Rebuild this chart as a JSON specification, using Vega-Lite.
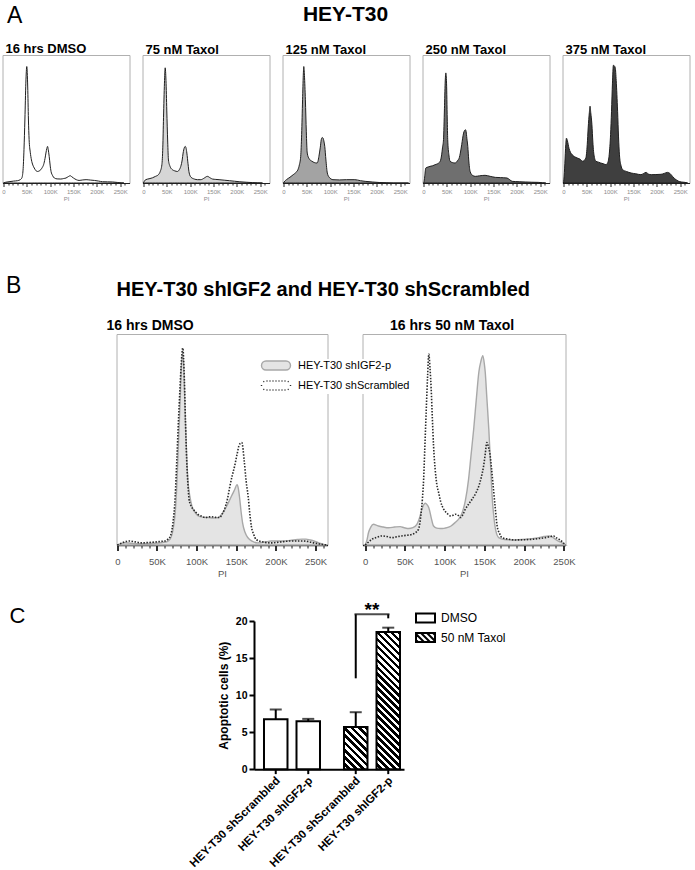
{
"$schema":"https://vega.github.io/schema/vega-lite/v6.json",
"background":"white",
"padding":{"left":0.5,"top":3,"right":0,"bottom":0},
"config":{"font":"Liberation Sans","view":{"stroke":"#b0b0b0"},"title":{"color":"black","fontWeight":"bold","font":"Liberation Sans"},"axis":{"grid":false,"zindex":1,"labelOverlap":false}},
"datasets":{
"histA":[
{"p":"DMSO","x":0,"y":0},{"p":"DMSO","x":5,"y":0.6},{"p":"DMSO","x":12,"y":1},{"p":"DMSO","x":22,"y":1.5},{"p":"DMSO","x":30,"y":1.8},{"p":"DMSO","x":36,"y":2.6},{"p":"DMSO","x":39.5,"y":4},{"p":"DMSO","x":42,"y":10},{"p":"DMSO","x":44,"y":26},{"p":"DMSO","x":46,"y":50},{"p":"DMSO","x":48,"y":78},{"p":"DMSO","x":50,"y":91},{"p":"DMSO","x":52,"y":75},{"p":"DMSO","x":53.5,"y":50},{"p":"DMSO","x":55,"y":34},{"p":"DMSO","x":57.5,"y":24},{"p":"DMSO","x":60,"y":18},{"p":"DMSO","x":63,"y":14},{"p":"DMSO","x":66,"y":11.7},{"p":"DMSO","x":70,"y":9.5},{"p":"DMSO","x":73,"y":9},{"p":"DMSO","x":76,"y":9.3},{"p":"DMSO","x":80,"y":10.4},{"p":"DMSO","x":83,"y":12},{"p":"DMSO","x":86,"y":14.3},{"p":"DMSO","x":89,"y":19},{"p":"DMSO","x":91,"y":23.4},{"p":"DMSO","x":93,"y":27},{"p":"DMSO","x":94.5,"y":28.6},{"p":"DMSO","x":96,"y":26},{"p":"DMSO","x":98,"y":20.8},{"p":"DMSO","x":100,"y":14},{"p":"DMSO","x":102,"y":9},{"p":"DMSO","x":105,"y":6},{"p":"DMSO","x":109,"y":3.9},{"p":"DMSO","x":115,"y":3.2},{"p":"DMSO","x":123,"y":3.1},{"p":"DMSO","x":129,"y":3.5},{"p":"DMSO","x":134,"y":3.9},{"p":"DMSO","x":139,"y":5},{"p":"DMSO","x":143,"y":5.7},{"p":"DMSO","x":146,"y":5},{"p":"DMSO","x":150,"y":3.9},{"p":"DMSO","x":156,"y":2.6},{"p":"DMSO","x":162,"y":2},{"p":"DMSO","x":170,"y":2.4},{"p":"DMSO","x":177,"y":2.6},{"p":"DMSO","x":186,"y":2.3},{"p":"DMSO","x":195,"y":2},{"p":"DMSO","x":204,"y":1.5},{"p":"DMSO","x":212,"y":1},{"p":"DMSO","x":223,"y":0.9},{"p":"DMSO","x":234,"y":0.8},{"p":"DMSO","x":245,"y":0.4},{"p":"DMSO","x":252,"y":0.1},{"p":"DMSO","x":258,"y":0},
{"p":"75","x":0,"y":0},{"p":"75","x":2,"y":1.5},{"p":"75","x":5,"y":2.6},{"p":"75","x":12,"y":3.3},{"p":"75","x":19,"y":4},{"p":"75","x":26,"y":5.2},{"p":"75","x":32,"y":6.5},{"p":"75","x":36,"y":9},{"p":"75","x":39.5,"y":14.3},{"p":"75","x":41.5,"y":28},{"p":"75","x":43,"y":51},{"p":"75","x":45,"y":78},{"p":"75","x":46.6,"y":90},{"p":"75","x":48.3,"y":80},{"p":"75","x":50,"y":57},{"p":"75","x":52,"y":32},{"p":"75","x":53.6,"y":18},{"p":"75","x":57,"y":13},{"p":"75","x":62,"y":10.4},{"p":"75","x":67,"y":9.5},{"p":"75","x":73,"y":9},{"p":"75","x":77,"y":10.5},{"p":"75","x":80,"y":13},{"p":"75","x":83,"y":18},{"p":"75","x":85,"y":23.4},{"p":"75","x":87.5,"y":27.5},{"p":"75","x":89.5,"y":28.6},{"p":"75","x":91.5,"y":27},{"p":"75","x":93,"y":23.4},{"p":"75","x":95.5,"y":15},{"p":"75","x":98,"y":7.8},{"p":"75","x":102,"y":4.5},{"p":"75","x":109,"y":3.1},{"p":"75","x":116,"y":2.6},{"p":"75","x":123,"y":2.6},{"p":"75","x":130,"y":3.8},{"p":"75","x":137,"y":5.2},{"p":"75","x":143,"y":4},{"p":"75","x":148,"y":3.1},{"p":"75","x":155,"y":2.8},{"p":"75","x":162,"y":2.6},{"p":"75","x":173,"y":2.2},{"p":"75","x":184,"y":1.8},{"p":"75","x":195,"y":1.4},{"p":"75","x":205,"y":1},{"p":"75","x":220,"y":0.6},{"p":"75","x":234,"y":0.3},{"p":"75","x":245,"y":0.1},{"p":"75","x":255,"y":0},
{"p":"125","x":0,"y":0},{"p":"125","x":3,"y":1.5},{"p":"125","x":6.4,"y":2.6},{"p":"125","x":14,"y":4.5},{"p":"125","x":21,"y":6.5},{"p":"125","x":26,"y":8},{"p":"125","x":31,"y":10.4},{"p":"125","x":34,"y":14},{"p":"125","x":37,"y":20.8},{"p":"125","x":39,"y":38},{"p":"125","x":41,"y":65},{"p":"125","x":42.5,"y":84},{"p":"125","x":43.6,"y":91},{"p":"125","x":45,"y":84},{"p":"125","x":47,"y":65},{"p":"125","x":49,"y":40},{"p":"125","x":51,"y":23.4},{"p":"125","x":55,"y":19},{"p":"125","x":61,"y":17},{"p":"125","x":66,"y":16},{"p":"125","x":72,"y":15.6},{"p":"125","x":74,"y":17},{"p":"125","x":76,"y":20.8},{"p":"125","x":79,"y":28},{"p":"125","x":81,"y":33.8},{"p":"125","x":83,"y":35.5},{"p":"125","x":85,"y":35},{"p":"125","x":87,"y":32},{"p":"125","x":88.5,"y":28.6},{"p":"125","x":91,"y":18},{"p":"125","x":94,"y":7.8},{"p":"125","x":98,"y":4.5},{"p":"125","x":106,"y":2.6},{"p":"125","x":120,"y":2.4},{"p":"125","x":135,"y":2.6},{"p":"125","x":153,"y":2.6},{"p":"125","x":165,"y":1.8},{"p":"125","x":175,"y":1.3},{"p":"125","x":190,"y":0.8},{"p":"125","x":205,"y":0.4},{"p":"125","x":220,"y":0.2},{"p":"125","x":235,"y":0},{"p":"125","x":268,"y":0},
{"p":"250","x":0,"y":0},{"p":"250","x":1.5,"y":1.3},{"p":"250","x":3,"y":6},{"p":"250","x":5,"y":11.7},{"p":"250","x":10,"y":12.5},{"p":"250","x":14,"y":13},{"p":"250","x":20,"y":13.5},{"p":"250","x":25,"y":14.3},{"p":"250","x":30,"y":15},{"p":"250","x":36,"y":17},{"p":"250","x":39,"y":22},{"p":"250","x":41,"y":28},{"p":"250","x":43,"y":34},{"p":"250","x":45,"y":58},{"p":"250","x":46.5,"y":78},{"p":"250","x":48,"y":86},{"p":"250","x":49.5,"y":78},{"p":"250","x":51,"y":50},{"p":"250","x":52,"y":34},{"p":"250","x":54.5,"y":22},{"p":"250","x":57,"y":17},{"p":"250","x":62,"y":16},{"p":"250","x":68,"y":15.6},{"p":"250","x":73,"y":17.5},{"p":"250","x":77,"y":20},{"p":"250","x":79,"y":23.4},{"p":"250","x":82,"y":30},{"p":"250","x":84,"y":35},{"p":"250","x":86,"y":39},{"p":"250","x":88,"y":41},{"p":"250","x":90,"y":41.6},{"p":"250","x":91.5,"y":40},{"p":"250","x":93,"y":35},{"p":"250","x":95,"y":28.6},{"p":"250","x":97,"y":18},{"p":"250","x":100,"y":9},{"p":"250","x":105,"y":6},{"p":"250","x":111,"y":5.2},{"p":"250","x":120,"y":5.6},{"p":"250","x":132,"y":6},{"p":"250","x":143,"y":5.2},{"p":"250","x":154,"y":4.4},{"p":"250","x":165,"y":4.2},{"p":"250","x":179,"y":3.9},{"p":"250","x":185,"y":2.5},{"p":"250","x":190,"y":1.3},{"p":"250","x":205,"y":1},{"p":"250","x":218,"y":0.8},{"p":"250","x":232,"y":0.6},{"p":"250","x":246,"y":0.5},{"p":"250","x":255,"y":0.2},{"p":"250","x":262,"y":0},
{"p":"375","x":0,"y":0},{"p":"375","x":1,"y":3},{"p":"375","x":3,"y":15},{"p":"375","x":5,"y":30},{"p":"375","x":6.4,"y":35},{"p":"375","x":8.5,"y":33},{"p":"375","x":12,"y":27},{"p":"375","x":15,"y":24},{"p":"375","x":19,"y":22},{"p":"375","x":24,"y":20.5},{"p":"375","x":30,"y":19.5},{"p":"375","x":36,"y":18.5},{"p":"375","x":41,"y":17},{"p":"375","x":44,"y":17.5},{"p":"375","x":48,"y":19.5},{"p":"375","x":51,"y":30},{"p":"375","x":53,"y":43},{"p":"375","x":55.5,"y":55},{"p":"375","x":57,"y":60},{"p":"375","x":58.5,"y":55},{"p":"375","x":61,"y":45.5},{"p":"375","x":63,"y":32},{"p":"375","x":64.5,"y":24.7},{"p":"375","x":67,"y":19},{"p":"375","x":69.5,"y":17},{"p":"375","x":75,"y":16.3},{"p":"375","x":80,"y":15.6},{"p":"375","x":86,"y":15},{"p":"375","x":91,"y":14.3},{"p":"375","x":95,"y":16},{"p":"375","x":98,"y":22},{"p":"375","x":101,"y":38},{"p":"375","x":103,"y":56},{"p":"375","x":105,"y":78},{"p":"375","x":107,"y":92},{"p":"375","x":109,"y":91.5},{"p":"375","x":111,"y":90},{"p":"375","x":113,"y":80},{"p":"375","x":116,"y":56},{"p":"375","x":118,"y":36},{"p":"375","x":120,"y":22},{"p":"375","x":123,"y":14},{"p":"375","x":127,"y":10.4},{"p":"375","x":135,"y":9},{"p":"375","x":145,"y":7.8},{"p":"375","x":155,"y":7.2},{"p":"375","x":166,"y":6.5},{"p":"375","x":172,"y":7.5},{"p":"375","x":177,"y":8.3},{"p":"375","x":182,"y":7},{"p":"375","x":188,"y":6.5},{"p":"375","x":198,"y":6.6},{"p":"375","x":209,"y":6.8},{"p":"375","x":216,"y":7.5},{"p":"375","x":223,"y":8.3},{"p":"375","x":228,"y":7.5},{"p":"375","x":234,"y":5},{"p":"375","x":238,"y":3.5},{"p":"375","x":241,"y":2.6},{"p":"375","x":246,"y":1.5},{"p":"375","x":252,"y":0.8},{"p":"375","x":260,"y":0.5},{"p":"375","x":266,"y":0}
],
"histB":[
{"t":"DMSO","l":"HEY-T30 shIGF2-p","x":0,"y":0},{"t":"DMSO","l":"HEY-T30 shIGF2-p","x":5,"y":0.8},{"t":"DMSO","l":"HEY-T30 shIGF2-p","x":10,"y":1.1},{"t":"DMSO","l":"HEY-T30 shIGF2-p","x":18,"y":0.8},{"t":"DMSO","l":"HEY-T30 shIGF2-p","x":27,"y":0.6},{"t":"DMSO","l":"HEY-T30 shIGF2-p","x":38,"y":0.7},{"t":"DMSO","l":"HEY-T30 shIGF2-p","x":48,"y":0.8},{"t":"DMSO","l":"HEY-T30 shIGF2-p","x":57,"y":1.2},{"t":"DMSO","l":"HEY-T30 shIGF2-p","x":63,"y":1.6},{"t":"DMSO","l":"HEY-T30 shIGF2-p","x":66,"y":2.5},{"t":"DMSO","l":"HEY-T30 shIGF2-p","x":69,"y":5},{"t":"DMSO","l":"HEY-T30 shIGF2-p","x":71,"y":9},{"t":"DMSO","l":"HEY-T30 shIGF2-p","x":73,"y":15.3},{"t":"DMSO","l":"HEY-T30 shIGF2-p","x":75,"y":28},{"t":"DMSO","l":"HEY-T30 shIGF2-p","x":77,"y":47},{"t":"DMSO","l":"HEY-T30 shIGF2-p","x":79,"y":66},{"t":"DMSO","l":"HEY-T30 shIGF2-p","x":80.5,"y":82},{"t":"DMSO","l":"HEY-T30 shIGF2-p","x":82.5,"y":91},{"t":"DMSO","l":"HEY-T30 shIGF2-p","x":84,"y":82},{"t":"DMSO","l":"HEY-T30 shIGF2-p","x":85.5,"y":63},{"t":"DMSO","l":"HEY-T30 shIGF2-p","x":87,"y":47},{"t":"DMSO","l":"HEY-T30 shIGF2-p","x":89,"y":31},{"t":"DMSO","l":"HEY-T30 shIGF2-p","x":91.5,"y":23},{"t":"DMSO","l":"HEY-T30 shIGF2-p","x":94,"y":18.5},{"t":"DMSO","l":"HEY-T30 shIGF2-p","x":98,"y":15.5},{"t":"DMSO","l":"HEY-T30 shIGF2-p","x":102,"y":13.8},{"t":"DMSO","l":"HEY-T30 shIGF2-p","x":108,"y":13.2},{"t":"DMSO","l":"HEY-T30 shIGF2-p","x":115,"y":13},{"t":"DMSO","l":"HEY-T30 shIGF2-p","x":121,"y":12.8},{"t":"DMSO","l":"HEY-T30 shIGF2-p","x":127,"y":13},{"t":"DMSO","l":"HEY-T30 shIGF2-p","x":133,"y":15.3},{"t":"DMSO","l":"HEY-T30 shIGF2-p","x":138,"y":18.5},{"t":"DMSO","l":"HEY-T30 shIGF2-p","x":142,"y":21.6},{"t":"DMSO","l":"HEY-T30 shIGF2-p","x":145,"y":24},{"t":"DMSO","l":"HEY-T30 shIGF2-p","x":148,"y":26.3},{"t":"DMSO","l":"HEY-T30 shIGF2-p","x":151,"y":28.6},{"t":"DMSO","l":"HEY-T30 shIGF2-p","x":152.5,"y":27},{"t":"DMSO","l":"HEY-T30 shIGF2-p","x":154,"y":23},{"t":"DMSO","l":"HEY-T30 shIGF2-p","x":156,"y":16},{"t":"DMSO","l":"HEY-T30 shIGF2-p","x":158,"y":10.4},{"t":"DMSO","l":"HEY-T30 shIGF2-p","x":161,"y":6},{"t":"DMSO","l":"HEY-T30 shIGF2-p","x":165,"y":3.3},{"t":"DMSO","l":"HEY-T30 shIGF2-p","x":170,"y":1.8},{"t":"DMSO","l":"HEY-T30 shIGF2-p","x":177,"y":1},{"t":"DMSO","l":"HEY-T30 shIGF2-p","x":186,"y":1.4},{"t":"DMSO","l":"HEY-T30 shIGF2-p","x":194,"y":1.9},{"t":"DMSO","l":"HEY-T30 shIGF2-p","x":202,"y":1.9},{"t":"DMSO","l":"HEY-T30 shIGF2-p","x":210,"y":1.9},{"t":"DMSO","l":"HEY-T30 shIGF2-p","x":218,"y":2.2},{"t":"DMSO","l":"HEY-T30 shIGF2-p","x":227,"y":2.6},{"t":"DMSO","l":"HEY-T30 shIGF2-p","x":233,"y":2.8},{"t":"DMSO","l":"HEY-T30 shIGF2-p","x":238,"y":2.8},{"t":"DMSO","l":"HEY-T30 shIGF2-p","x":243,"y":2.4},{"t":"DMSO","l":"HEY-T30 shIGF2-p","x":248,"y":1.9},{"t":"DMSO","l":"HEY-T30 shIGF2-p","x":254,"y":1},{"t":"DMSO","l":"HEY-T30 shIGF2-p","x":260,"y":0.3},{"t":"DMSO","l":"HEY-T30 shIGF2-p","x":264,"y":0},
{"t":"DMSO","l":"HEY-T30 shScrambled","x":0,"y":0},{"t":"DMSO","l":"HEY-T30 shScrambled","x":6,"y":1},{"t":"DMSO","l":"HEY-T30 shScrambled","x":15,"y":1.9},{"t":"DMSO","l":"HEY-T30 shScrambled","x":22,"y":1.5},{"t":"DMSO","l":"HEY-T30 shScrambled","x":31,"y":1},{"t":"DMSO","l":"HEY-T30 shScrambled","x":40,"y":1.2},{"t":"DMSO","l":"HEY-T30 shScrambled","x":48,"y":1.4},{"t":"DMSO","l":"HEY-T30 shScrambled","x":55,"y":1.7},{"t":"DMSO","l":"HEY-T30 shScrambled","x":60,"y":1.9},{"t":"DMSO","l":"HEY-T30 shScrambled","x":64,"y":2.8},{"t":"DMSO","l":"HEY-T30 shScrambled","x":67,"y":4.3},{"t":"DMSO","l":"HEY-T30 shScrambled","x":70,"y":10},{"t":"DMSO","l":"HEY-T30 shScrambled","x":73,"y":23},{"t":"DMSO","l":"HEY-T30 shScrambled","x":75,"y":40},{"t":"DMSO","l":"HEY-T30 shScrambled","x":77,"y":58},{"t":"DMSO","l":"HEY-T30 shScrambled","x":79,"y":74},{"t":"DMSO","l":"HEY-T30 shScrambled","x":80.5,"y":85},{"t":"DMSO","l":"HEY-T30 shScrambled","x":82.5,"y":93.4},{"t":"DMSO","l":"HEY-T30 shScrambled","x":84.6,"y":78},{"t":"DMSO","l":"HEY-T30 shScrambled","x":86,"y":58},{"t":"DMSO","l":"HEY-T30 shScrambled","x":87.5,"y":40},{"t":"DMSO","l":"HEY-T30 shScrambled","x":89,"y":29},{"t":"DMSO","l":"HEY-T30 shScrambled","x":90.5,"y":21.6},{"t":"DMSO","l":"HEY-T30 shScrambled","x":93,"y":18.5},{"t":"DMSO","l":"HEY-T30 shScrambled","x":96,"y":16.8},{"t":"DMSO","l":"HEY-T30 shScrambled","x":99,"y":15.5},{"t":"DMSO","l":"HEY-T30 shScrambled","x":102,"y":14.4},{"t":"DMSO","l":"HEY-T30 shScrambled","x":106,"y":13.7},{"t":"DMSO","l":"HEY-T30 shScrambled","x":111,"y":13},{"t":"DMSO","l":"HEY-T30 shScrambled","x":115,"y":13.3},{"t":"DMSO","l":"HEY-T30 shScrambled","x":119,"y":13.4},{"t":"DMSO","l":"HEY-T30 shScrambled","x":124,"y":13.1},{"t":"DMSO","l":"HEY-T30 shScrambled","x":129,"y":13},{"t":"DMSO","l":"HEY-T30 shScrambled","x":132,"y":14.5},{"t":"DMSO","l":"HEY-T30 shScrambled","x":135,"y":16.8},{"t":"DMSO","l":"HEY-T30 shScrambled","x":139,"y":22},{"t":"DMSO","l":"HEY-T30 shScrambled","x":142,"y":28},{"t":"DMSO","l":"HEY-T30 shScrambled","x":145,"y":33},{"t":"DMSO","l":"HEY-T30 shScrambled","x":148,"y":37.5},{"t":"DMSO","l":"HEY-T30 shScrambled","x":151,"y":43},{"t":"DMSO","l":"HEY-T30 shScrambled","x":154,"y":47.7},{"t":"DMSO","l":"HEY-T30 shScrambled","x":157,"y":48.5},{"t":"DMSO","l":"HEY-T30 shScrambled","x":160,"y":40},{"t":"DMSO","l":"HEY-T30 shScrambled","x":162.5,"y":30},{"t":"DMSO","l":"HEY-T30 shScrambled","x":165,"y":23},{"t":"DMSO","l":"HEY-T30 shScrambled","x":167,"y":15},{"t":"DMSO","l":"HEY-T30 shScrambled","x":169,"y":8.9},{"t":"DMSO","l":"HEY-T30 shScrambled","x":172,"y":5},{"t":"DMSO","l":"HEY-T30 shScrambled","x":175,"y":2.6},{"t":"DMSO","l":"HEY-T30 shScrambled","x":183,"y":1.5},{"t":"DMSO","l":"HEY-T30 shScrambled","x":194,"y":1},{"t":"DMSO","l":"HEY-T30 shScrambled","x":205,"y":1.4},{"t":"DMSO","l":"HEY-T30 shScrambled","x":219,"y":1.9},{"t":"DMSO","l":"HEY-T30 shScrambled","x":228,"y":1.9},{"t":"DMSO","l":"HEY-T30 shScrambled","x":235,"y":1.9},{"t":"DMSO","l":"HEY-T30 shScrambled","x":242,"y":1.5},{"t":"DMSO","l":"HEY-T30 shScrambled","x":248,"y":1},{"t":"DMSO","l":"HEY-T30 shScrambled","x":255,"y":0.5},{"t":"DMSO","l":"HEY-T30 shScrambled","x":264,"y":0},
{"t":"Taxol","l":"HEY-T30 shIGF2-p","x":0,"y":0},{"t":"Taxol","l":"HEY-T30 shIGF2-p","x":2,"y":2},{"t":"Taxol","l":"HEY-T30 shIGF2-p","x":4.2,"y":5.9},{"t":"Taxol","l":"HEY-T30 shIGF2-p","x":7,"y":8.5},{"t":"Taxol","l":"HEY-T30 shIGF2-p","x":10.5,"y":9.8},{"t":"Taxol","l":"HEY-T30 shIGF2-p","x":14,"y":9.4},{"t":"Taxol","l":"HEY-T30 shIGF2-p","x":16.8,"y":9},{"t":"Taxol","l":"HEY-T30 shIGF2-p","x":23,"y":8.5},{"t":"Taxol","l":"HEY-T30 shIGF2-p","x":29.4,"y":8.2},{"t":"Taxol","l":"HEY-T30 shIGF2-p","x":37,"y":8.5},{"t":"Taxol","l":"HEY-T30 shIGF2-p","x":44,"y":8.7},{"t":"Taxol","l":"HEY-T30 shIGF2-p","x":49,"y":8.2},{"t":"Taxol","l":"HEY-T30 shIGF2-p","x":54.6,"y":7.8},{"t":"Taxol","l":"HEY-T30 shIGF2-p","x":60,"y":8.2},{"t":"Taxol","l":"HEY-T30 shIGF2-p","x":65,"y":9.8},{"t":"Taxol","l":"HEY-T30 shIGF2-p","x":68,"y":12.5},{"t":"Taxol","l":"HEY-T30 shIGF2-p","x":71.4,"y":17},{"t":"Taxol","l":"HEY-T30 shIGF2-p","x":73.5,"y":19},{"t":"Taxol","l":"HEY-T30 shIGF2-p","x":75.6,"y":19.8},{"t":"Taxol","l":"HEY-T30 shIGF2-p","x":78,"y":19},{"t":"Taxol","l":"HEY-T30 shIGF2-p","x":80,"y":17.7},{"t":"Taxol","l":"HEY-T30 shIGF2-p","x":83,"y":13},{"t":"Taxol","l":"HEY-T30 shIGF2-p","x":86,"y":9},{"t":"Taxol","l":"HEY-T30 shIGF2-p","x":90,"y":8},{"t":"Taxol","l":"HEY-T30 shIGF2-p","x":94.5,"y":7.8},{"t":"Taxol","l":"HEY-T30 shIGF2-p","x":99,"y":7.9},{"t":"Taxol","l":"HEY-T30 shIGF2-p","x":103,"y":8.2},{"t":"Taxol","l":"HEY-T30 shIGF2-p","x":108,"y":9},{"t":"Taxol","l":"HEY-T30 shIGF2-p","x":113,"y":10.6},{"t":"Taxol","l":"HEY-T30 shIGF2-p","x":118,"y":12.5},{"t":"Taxol","l":"HEY-T30 shIGF2-p","x":122,"y":15.3},{"t":"Taxol","l":"HEY-T30 shIGF2-p","x":126,"y":21},{"t":"Taxol","l":"HEY-T30 shIGF2-p","x":130,"y":31},{"t":"Taxol","l":"HEY-T30 shIGF2-p","x":133,"y":42},{"t":"Taxol","l":"HEY-T30 shIGF2-p","x":136.5,"y":55},{"t":"Taxol","l":"HEY-T30 shIGF2-p","x":140,"y":70},{"t":"Taxol","l":"HEY-T30 shIGF2-p","x":143,"y":82},{"t":"Taxol","l":"HEY-T30 shIGF2-p","x":145.5,"y":87},{"t":"Taxol","l":"HEY-T30 shIGF2-p","x":148,"y":89.7},{"t":"Taxol","l":"HEY-T30 shIGF2-p","x":150,"y":85.5},{"t":"Taxol","l":"HEY-T30 shIGF2-p","x":151,"y":82},{"t":"Taxol","l":"HEY-T30 shIGF2-p","x":153,"y":70},{"t":"Taxol","l":"HEY-T30 shIGF2-p","x":155.5,"y":55},{"t":"Taxol","l":"HEY-T30 shIGF2-p","x":158,"y":36},{"t":"Taxol","l":"HEY-T30 shIGF2-p","x":159.7,"y":23},{"t":"Taxol","l":"HEY-T30 shIGF2-p","x":162,"y":13},{"t":"Taxol","l":"HEY-T30 shIGF2-p","x":164,"y":7.4},{"t":"Taxol","l":"HEY-T30 shIGF2-p","x":168,"y":3.5},{"t":"Taxol","l":"HEY-T30 shIGF2-p","x":175,"y":2.6},{"t":"Taxol","l":"HEY-T30 shIGF2-p","x":185,"y":2.4},{"t":"Taxol","l":"HEY-T30 shIGF2-p","x":193,"y":2.5},{"t":"Taxol","l":"HEY-T30 shIGF2-p","x":201.7,"y":2.7},{"t":"Taxol","l":"HEY-T30 shIGF2-p","x":210,"y":3},{"t":"Taxol","l":"HEY-T30 shIGF2-p","x":218.5,"y":3.5},{"t":"Taxol","l":"HEY-T30 shIGF2-p","x":225,"y":4},{"t":"Taxol","l":"HEY-T30 shIGF2-p","x":231,"y":4.3},{"t":"Taxol","l":"HEY-T30 shIGF2-p","x":235,"y":3.8},{"t":"Taxol","l":"HEY-T30 shIGF2-p","x":239.5,"y":2.7},{"t":"Taxol","l":"HEY-T30 shIGF2-p","x":245,"y":1.5},{"t":"Taxol","l":"HEY-T30 shIGF2-p","x":250,"y":0.5},{"t":"Taxol","l":"HEY-T30 shIGF2-p","x":252,"y":0},
{"t":"Taxol","l":"HEY-T30 shScrambled","x":0,"y":0},{"t":"Taxol","l":"HEY-T30 shScrambled","x":3,"y":1},{"t":"Taxol","l":"HEY-T30 shScrambled","x":8.4,"y":2.7},{"t":"Taxol","l":"HEY-T30 shScrambled","x":14,"y":3.6},{"t":"Taxol","l":"HEY-T30 shScrambled","x":21,"y":4.3},{"t":"Taxol","l":"HEY-T30 shScrambled","x":27,"y":4},{"t":"Taxol","l":"HEY-T30 shScrambled","x":33.6,"y":3.5},{"t":"Taxol","l":"HEY-T30 shScrambled","x":40,"y":3.9},{"t":"Taxol","l":"HEY-T30 shScrambled","x":46,"y":4.3},{"t":"Taxol","l":"HEY-T30 shScrambled","x":52,"y":4.6},{"t":"Taxol","l":"HEY-T30 shScrambled","x":58.8,"y":5},{"t":"Taxol","l":"HEY-T30 shScrambled","x":63,"y":5.8},{"t":"Taxol","l":"HEY-T30 shScrambled","x":67,"y":7.4},{"t":"Taxol","l":"HEY-T30 shScrambled","x":70,"y":14},{"t":"Taxol","l":"HEY-T30 shScrambled","x":72,"y":22},{"t":"Taxol","l":"HEY-T30 shScrambled","x":73.5,"y":31},{"t":"Taxol","l":"HEY-T30 shScrambled","x":75,"y":46},{"t":"Taxol","l":"HEY-T30 shScrambled","x":77,"y":66},{"t":"Taxol","l":"HEY-T30 shScrambled","x":78.5,"y":80},{"t":"Taxol","l":"HEY-T30 shScrambled","x":80,"y":90.5},{"t":"Taxol","l":"HEY-T30 shScrambled","x":81.5,"y":84},{"t":"Taxol","l":"HEY-T30 shScrambled","x":83,"y":74},{"t":"Taxol","l":"HEY-T30 shScrambled","x":84.5,"y":60},{"t":"Taxol","l":"HEY-T30 shScrambled","x":86,"y":47},{"t":"Taxol","l":"HEY-T30 shScrambled","x":88,"y":36},{"t":"Taxol","l":"HEY-T30 shScrambled","x":90,"y":29},{"t":"Taxol","l":"HEY-T30 shScrambled","x":92.4,"y":24.8},{"t":"Taxol","l":"HEY-T30 shScrambled","x":95,"y":20.5},{"t":"Taxol","l":"HEY-T30 shScrambled","x":98.7,"y":17},{"t":"Taxol","l":"HEY-T30 shScrambled","x":103,"y":15},{"t":"Taxol","l":"HEY-T30 shScrambled","x":107,"y":13.8},{"t":"Taxol","l":"HEY-T30 shScrambled","x":110,"y":14},{"t":"Taxol","l":"HEY-T30 shScrambled","x":113.4,"y":14.6},{"t":"Taxol","l":"HEY-T30 shScrambled","x":117,"y":14},{"t":"Taxol","l":"HEY-T30 shScrambled","x":120,"y":13},{"t":"Taxol","l":"HEY-T30 shScrambled","x":123,"y":14.5},{"t":"Taxol","l":"HEY-T30 shScrambled","x":126,"y":17},{"t":"Taxol","l":"HEY-T30 shScrambled","x":130,"y":19.3},{"t":"Taxol","l":"HEY-T30 shScrambled","x":134.5,"y":21.7},{"t":"Taxol","l":"HEY-T30 shScrambled","x":139,"y":24.5},{"t":"Taxol","l":"HEY-T30 shScrambled","x":143,"y":28},{"t":"Taxol","l":"HEY-T30 shScrambled","x":146,"y":32},{"t":"Taxol","l":"HEY-T30 shScrambled","x":149,"y":37.5},{"t":"Taxol","l":"HEY-T30 shScrambled","x":151,"y":43},{"t":"Taxol","l":"HEY-T30 shScrambled","x":153,"y":48.6},{"t":"Taxol","l":"HEY-T30 shScrambled","x":155,"y":46.5},{"t":"Taxol","l":"HEY-T30 shScrambled","x":156.7,"y":43.8},{"t":"Taxol","l":"HEY-T30 shScrambled","x":159,"y":36},{"t":"Taxol","l":"HEY-T30 shScrambled","x":161,"y":28},{"t":"Taxol","l":"HEY-T30 shScrambled","x":163.5,"y":18},{"t":"Taxol","l":"HEY-T30 shScrambled","x":166,"y":9},{"t":"Taxol","l":"HEY-T30 shScrambled","x":169,"y":5.5},{"t":"Taxol","l":"HEY-T30 shScrambled","x":172,"y":3.5},{"t":"Taxol","l":"HEY-T30 shScrambled","x":180,"y":2.8},{"t":"Taxol","l":"HEY-T30 shScrambled","x":189,"y":2.4},{"t":"Taxol","l":"HEY-T30 shScrambled","x":200,"y":2.5},{"t":"Taxol","l":"HEY-T30 shScrambled","x":210,"y":2.7},{"t":"Taxol","l":"HEY-T30 shScrambled","x":219,"y":3.1},{"t":"Taxol","l":"HEY-T30 shScrambled","x":227,"y":3.5},{"t":"Taxol","l":"HEY-T30 shScrambled","x":233,"y":4},{"t":"Taxol","l":"HEY-T30 shScrambled","x":237,"y":4.3},{"t":"Taxol","l":"HEY-T30 shScrambled","x":240,"y":3.5},{"t":"Taxol","l":"HEY-T30 shScrambled","x":244,"y":2.7},{"t":"Taxol","l":"HEY-T30 shScrambled","x":248,"y":1.5},{"t":"Taxol","l":"HEY-T30 shScrambled","x":252,"y":0}
],
"bars":[
{"treatment":"DMSO","line":"HEY-T30 shScrambled","value":6.75,"upper":8.05},
{"treatment":"DMSO","line":"HEY-T30 shIGF2-p","value":6.47,"upper":6.8},
{"treatment":"50 nM Taxol","line":"HEY-T30 shScrambled","value":5.7,"upper":7.7},
{"treatment":"50 nM Taxol","line":"HEY-T30 shIGF2-p","value":18.5,"upper":19.1}
],
"bracket":[
{"treatment":"50 nM Taxol","line":"HEY-T30 shScrambled","lo":12.27,"hi":20.9},
{"treatment":"50 nM Taxol","line":"HEY-T30 shIGF2-p","lo":20.36,"hi":20.9}
],
"star":[{"treatment":"50 nM Taxol","level":20.9,"label":"**"}]
},
"columns":1,"spacing":23,
"resolve":{"scale":{"fill":"independent","stroke":"independent","shape":"independent"},"legend":{"fill":"independent","stroke":"independent","shape":"independent"}},
"concat":[
{"columns":1,"spacing":72,
 "resolve":{"scale":{"fill":"independent","stroke":"independent","shape":"independent"},"legend":{"fill":"independent","stroke":"independent","shape":"independent"}},
 "concat":[
 {"title":{"text":"HEY-T30","fontSize":21,"anchor":"middle","offset":-21},
  "spacing":13,"bounds":"flush",
  "hconcat":[
  {"width":127,"height":128,"title":{"text":"16 hrs DMSO","anchor":"start","dx":4,"dy":50,"fontSize":13,"offset":-2},
   "data":{"name":"histA"},"transform":[{"filter":"datum.p === 'DMSO'"}],
   "mark":{"type":"area","interpolate":"monotone","fill":"#ffffff","stroke":"#1f1f1f","strokeWidth":1},
   "encoding":{
    "x":{"field":"x","type":"quantitative","scale":{"domain":[-2,270],"nice":false,"zero":false},"axis":{"values":[0,10,20,30,40,50,60,70,80,90,100,110,120,130,140,150,160,170,180,190,200,210,220,230,240,250,260],"labelExpr":"datum.value % 50 === 0 ? (datum.value === 0 ? '0' : datum.value + 'K') : ''","labelFlush":false,"tickSize":{"condition":{"test":"datum.value % 50 === 0","value":3.5},"value":2},"tickColor":"#222222","domainColor":"#222222","labelFontSize":6,"labelColor":"#8c8c8c","labelPadding":2,"title":"PI","titleFontSize":6,"titleColor":"#8c8c8c","titleFontWeight":"normal","titlePadding":1}},
    "y":{"field":"y","type":"quantitative","scale":{"domain":[0,100],"nice":false},"axis":{"title":"A","titleAngle":0,"titleX":4,"titleY":-33,"titleAlign":"left","titleBaseline":"alphabetic","titleFontSize":23,"titleFontWeight":"normal","titleColor":"black","labels":false,"ticks":false,"domain":false,"grid":false}}
   }},
  {"width":127,"height":128,"title":{"text":"75 nM Taxol","anchor":"start","dx":4,"fontSize":13,"offset":-2},
   "data":{"name":"histA"},"transform":[{"filter":"datum.p === '75'"}],
   "mark":{"type":"area","interpolate":"monotone","fill":"#d6d6d6","stroke":"#1f1f1f","strokeWidth":1},
   "encoding":{
    "x":{"field":"x","type":"quantitative","scale":{"domain":[-2,270],"nice":false,"zero":false},"axis":{"values":[0,10,20,30,40,50,60,70,80,90,100,110,120,130,140,150,160,170,180,190,200,210,220,230,240,250,260],"labelExpr":"datum.value % 50 === 0 ? (datum.value === 0 ? '0' : datum.value + 'K') : ''","labelFlush":false,"tickSize":{"condition":{"test":"datum.value % 50 === 0","value":3.5},"value":2},"tickColor":"#222222","domainColor":"#222222","labelFontSize":6,"labelColor":"#8c8c8c","labelPadding":2,"title":"PI","titleFontSize":6,"titleColor":"#8c8c8c","titleFontWeight":"normal","titlePadding":1}},
    "y":{"field":"y","type":"quantitative","scale":{"domain":[0,100],"nice":false},"axis":null}
   }},
  {"width":127,"height":128,"title":{"text":"125 nM Taxol","anchor":"start","dx":4,"fontSize":13,"offset":-2},
   "data":{"name":"histA"},"transform":[{"filter":"datum.p === '125'"}],
   "mark":{"type":"area","interpolate":"monotone","fill":"#a3a3a3","stroke":"#1f1f1f","strokeWidth":1},
   "encoding":{
    "x":{"field":"x","type":"quantitative","scale":{"domain":[-2,270],"nice":false,"zero":false},"axis":{"values":[0,10,20,30,40,50,60,70,80,90,100,110,120,130,140,150,160,170,180,190,200,210,220,230,240,250,260],"labelExpr":"datum.value % 50 === 0 ? (datum.value === 0 ? '0' : datum.value + 'K') : ''","labelFlush":false,"tickSize":{"condition":{"test":"datum.value % 50 === 0","value":3.5},"value":2},"tickColor":"#222222","domainColor":"#222222","labelFontSize":6,"labelColor":"#8c8c8c","labelPadding":2,"title":"PI","titleFontSize":6,"titleColor":"#8c8c8c","titleFontWeight":"normal","titlePadding":1}},
    "y":{"field":"y","type":"quantitative","scale":{"domain":[0,100],"nice":false},"axis":null}
   }},
  {"width":127,"height":128,"title":{"text":"250 nM Taxol","anchor":"start","dx":4,"fontSize":13,"offset":-2},
   "data":{"name":"histA"},"transform":[{"filter":"datum.p === '250'"}],
   "mark":{"type":"area","interpolate":"monotone","fill":"#6f6f6f","stroke":"#1f1f1f","strokeWidth":1},
   "encoding":{
    "x":{"field":"x","type":"quantitative","scale":{"domain":[-2,270],"nice":false,"zero":false},"axis":{"values":[0,10,20,30,40,50,60,70,80,90,100,110,120,130,140,150,160,170,180,190,200,210,220,230,240,250,260],"labelExpr":"datum.value % 50 === 0 ? (datum.value === 0 ? '0' : datum.value + 'K') : ''","labelFlush":false,"tickSize":{"condition":{"test":"datum.value % 50 === 0","value":3.5},"value":2},"tickColor":"#222222","domainColor":"#222222","labelFontSize":6,"labelColor":"#8c8c8c","labelPadding":2,"title":"PI","titleFontSize":6,"titleColor":"#8c8c8c","titleFontWeight":"normal","titlePadding":1}},
    "y":{"field":"y","type":"quantitative","scale":{"domain":[0,100],"nice":false},"axis":null}
   }},
  {"width":127,"height":128,"title":{"text":"375 nM Taxol","anchor":"start","dx":4,"fontSize":13,"offset":-2},
   "data":{"name":"histA"},"transform":[{"filter":"datum.p === '375'"}],
   "mark":{"type":"area","interpolate":"monotone","fill":"#3f3f3f","stroke":"#1f1f1f","strokeWidth":1},
   "encoding":{
    "x":{"field":"x","type":"quantitative","scale":{"domain":[-2,270],"nice":false,"zero":false},"axis":{"values":[0,10,20,30,40,50,60,70,80,90,100,110,120,130,140,150,160,170,180,190,200,210,220,230,240,250,260],"labelExpr":"datum.value % 50 === 0 ? (datum.value === 0 ? '0' : datum.value + 'K') : ''","labelFlush":false,"tickSize":{"condition":{"test":"datum.value % 50 === 0","value":3.5},"value":2},"tickColor":"#222222","domainColor":"#222222","labelFontSize":6,"labelColor":"#8c8c8c","labelPadding":2,"title":"PI","titleFontSize":6,"titleColor":"#8c8c8c","titleFontWeight":"normal","titlePadding":1}},
    "y":{"field":"y","type":"quantitative","scale":{"domain":[0,100],"nice":false},"axis":null}
   }}
  ]},
 {"bounds":"flush","spacing":14,
  "resolve":{"scale":{"fill":"independent","stroke":"independent","shape":"independent"},"legend":{"fill":"independent","stroke":"independent","shape":"independent"}},
  "hconcat":[
  {"width":100,"height":20,"view":{"stroke":null},
   "title":{"text":"B","anchor":"start","frame":"group","dx":3.5,"fontSize":23,"fontWeight":"normal","offset":36.5},
   "mark":{"type":"rect","opacity":0},"encoding":{}},
  {"title":{"text":"HEY-T30 shIGF2 and HEY-T30 shScrambled","fontSize":20,"anchor":"middle","dx":-3,"offset":19},
   "spacing":35,"bounds":"flush",
   "hconcat":[
   {"width":211,"height":211,"title":{"text":"16 hrs DMSO","anchor":"start","dx":29,"fontSize":14,"offset":1},
    "data":{"name":"histB"},"transform":[{"filter":"datum.t === 'DMSO'"}],
    "encoding":{
     "x":{"field":"x","type":"quantitative","scale":{"domain":[-1,265],"nice":false,"zero":false},"axis":{"values":[0,10,20,30,40,50,60,70,80,90,100,110,120,130,140,150,160,170,180,190,200,210,220,230,240,250,260],"labelExpr":"datum.value % 50 === 0 ? (datum.value === 0 ? '0' : datum.value + 'K') : ''","labelFlush":false,"tickSize":{"condition":{"test":"datum.value % 50 === 0","value":5.5},"value":3},"tickWidth":{"condition":{"test":"datum.value % 50 === 0","value":1.8},"value":1},"tickColor":"#1a1a1a","domainColor":"#1a1a1a","domainWidth":1.3,"labelFontSize":9.5,"labelColor":"#555555","labelPadding":6,"title":"PI","titleFontSize":9.5,"titleColor":"#555555","titleFontWeight":"normal","titlePadding":2}},
     "y":{"field":"y","type":"quantitative","scale":{"domain":[0,100],"nice":false},"axis":null}
    },
    "layer":[
     {"transform":[{"filter":"datum.l === 'HEY-T30 shIGF2-p'"}],"mark":{"type":"area","interpolate":"monotone","fill":"#e4e4e4","stroke":"#a8a8a8","strokeWidth":1.4}},
     {"transform":[{"filter":"datum.l === 'HEY-T30 shScrambled'"}],"mark":{"type":"line","interpolate":"monotone","stroke":"#2a2a2a","strokeWidth":1.6,"strokeDash":[1.5,1.5]}},
     {"mark":{"type":"point","opacity":0,"filled":true},
      "encoding":{
       "shape":{"field":"l","type":"nominal","scale":{"domain":["HEY-T30 shIGF2-p","HEY-T30 shScrambled"],"range":["M-10,-4.5L10,-4.5A4.5,4.5 0 0 1 10,4.5L-10,4.5A4.5,4.5 0 0 1 -10,-4.5Z","M-9.5,-4.5h1M-6.5,-4.5h1M-3.5,-4.5h1M-0.5,-4.5h1M2.5,-4.5h1M5.5,-4.5h1M8.5,-4.5h1M-9.5,4.5h1M-6.5,4.5h1M-3.5,4.5h1M-0.5,4.5h1M2.5,4.5h1M5.5,4.5h1M8.5,4.5h1M11.8,-4.2l0.8,0.6M14.5,-0.6v1.2M11.8,4.2l0.8,-0.6M-11.8,-4.2l-0.8,0.6M-14.5,-0.6v1.2M-11.8,4.2l-0.8,-0.6"]},"legend":{"orient":"none","legendX":153,"legendY":25,"title":null,"symbolSize":4,"symbolStrokeWidth":1.4,"symbolOpacity":1,"labelFontSize":11,"labelColor":"black","labelOffset":16.5,"rowPadding":5,"fillColor":"white","padding":1}},
       "fill":{"field":"l","type":"nominal","scale":{"domain":["HEY-T30 shIGF2-p","HEY-T30 shScrambled"],"range":["#e4e4e4","transparent"]},"legend":{"orient":"none","legendX":153,"legendY":25,"title":null,"symbolSize":4,"symbolStrokeWidth":1.4,"symbolOpacity":1,"labelFontSize":11,"labelColor":"black","labelOffset":16.5,"rowPadding":5,"fillColor":"white","padding":1}},
       "stroke":{"field":"l","type":"nominal","scale":{"domain":["HEY-T30 shIGF2-p","HEY-T30 shScrambled"],"range":["#a8a8a8","#2a2a2a"]},"legend":{"orient":"none","legendX":153,"legendY":25,"title":null,"symbolSize":4,"symbolStrokeWidth":1.4,"symbolOpacity":1,"labelFontSize":11,"labelColor":"black","labelOffset":16.5,"rowPadding":5,"fillColor":"white","padding":1}}
      }}
    ]},
   {"width":203,"height":211,"title":{"text":"16 hrs 50 nM Taxol","anchor":"start","dx":28,"fontSize":14,"offset":1},
    "data":{"name":"histB"},"transform":[{"filter":"datum.t === 'Taxol'"}],
    "encoding":{
     "x":{"field":"x","type":"quantitative","scale":{"domain":[-3.4,252],"nice":false,"zero":false},"axis":{"values":[0,10,20,30,40,50,60,70,80,90,100,110,120,130,140,150,160,170,180,190,200,210,220,230,240,250],"labelExpr":"datum.value % 50 === 0 ? (datum.value === 0 ? '0' : datum.value + 'K') : ''","labelFlush":false,"tickSize":{"condition":{"test":"datum.value % 50 === 0","value":5.5},"value":3},"tickWidth":{"condition":{"test":"datum.value % 50 === 0","value":1.8},"value":1},"tickColor":"#1a1a1a","domainColor":"#1a1a1a","domainWidth":1.3,"labelFontSize":9.5,"labelColor":"#555555","labelPadding":6,"title":"PI","titleFontSize":9.5,"titleColor":"#555555","titleFontWeight":"normal","titlePadding":2}},
     "y":{"field":"y","type":"quantitative","scale":{"domain":[0,100],"nice":false},"axis":null}
    },
    "layer":[
     {"transform":[{"filter":"datum.l === 'HEY-T30 shIGF2-p'"}],"mark":{"type":"area","interpolate":"monotone","fill":"#e4e4e4","stroke":"#a8a8a8","strokeWidth":1.4}},
     {"transform":[{"filter":"datum.l === 'HEY-T30 shScrambled'"}],"mark":{"type":"line","interpolate":"monotone","stroke":"#2a2a2a","strokeWidth":1.6,"strokeDash":[1.5,1.5]}}
    ]}
   ]}
  ]}
 ]},
{"bounds":"flush","spacing":151.5,
 "resolve":{"scale":{"shape":"independent"},"legend":{"shape":"independent"}},
 "hconcat":[
 {"width":100,"height":20,"view":{"stroke":null},
  "title":{"text":"C","anchor":"start","frame":"group","dx":7,"fontSize":22,"fontWeight":"normal","offset":-6.5},
  "mark":{"type":"rect","opacity":0},"encoding":{}},
 {"width":150,"height":148.3,
  "view":{"stroke":null},
  "encoding":{"x":{"field":"treatment","type":"nominal","sort":["DMSO","50 nM Taxol"],"scale":{"domain":["DMSO","50 nM Taxol"],"paddingInner":0.3,"paddingOuter":0.0875,"align":0.714},"axis":{"title":null,"labels":false,"ticks":false,"domainColor":"black","domainWidth":2}}},
  "layer":[
   {"data":{"name":"bars"},
    "mark":{"type":"bar","stroke":"black","strokeWidth":2},
    "encoding":{
     "xOffset":{"field":"line","type":"nominal","sort":["HEY-T30 shScrambled","HEY-T30 shIGF2-p"],"scale":{"domain":["HEY-T30 shScrambled","HEY-T30 shIGF2-p"],"paddingInner":0.277,"paddingOuter":0}},
     "y":{"field":"value","type":"quantitative","scale":{"domain":[0,20],"nice":false},"axis":{"values":[0,5,10,15,20],"tickCount":5,"title":"Apoptotic cells (%)","titleFontSize":12,"titleFontWeight":"bold","titleColor":"black","titlePadding":5,"labelFontSize":10.5,"labelFontWeight":"bold","labelColor":"black","labelPadding":2,"tickSize":5,"tickWidth":2,"tickColor":"black","domainColor":"black","domainWidth":2}},
     "fill":{
      "condition":[
       {"test":"datum.treatment === '50 nM Taxol' && datum.line === 'HEY-T30 shIGF2-p'","value":{"gradient":"linear","x1":0,"y1":1,"x2":0.195,"y2":-0.138,"stops":[{"offset":0,"color":"#fff"},{"offset":0.0217,"color":"#fff"},{"offset":0.0217,"color":"#000"},{"offset":0.0435,"color":"#000"},{"offset":0.0435,"color":"#fff"},{"offset":0.0652,"color":"#fff"},{"offset":0.0652,"color":"#000"},{"offset":0.087,"color":"#000"},{"offset":0.087,"color":"#fff"},{"offset":0.1087,"color":"#fff"},{"offset":0.1087,"color":"#000"},{"offset":0.1304,"color":"#000"},{"offset":0.1304,"color":"#fff"},{"offset":0.1522,"color":"#fff"},{"offset":0.1522,"color":"#000"},{"offset":0.1739,"color":"#000"},{"offset":0.1739,"color":"#fff"},{"offset":0.1957,"color":"#fff"},{"offset":0.1957,"color":"#000"},{"offset":0.2174,"color":"#000"},{"offset":0.2174,"color":"#fff"},{"offset":0.2391,"color":"#fff"},{"offset":0.2391,"color":"#000"},{"offset":0.2609,"color":"#000"},{"offset":0.2609,"color":"#fff"},{"offset":0.2826,"color":"#fff"},{"offset":0.2826,"color":"#000"},{"offset":0.3043,"color":"#000"},{"offset":0.3043,"color":"#fff"},{"offset":0.3261,"color":"#fff"},{"offset":0.3261,"color":"#000"},{"offset":0.3478,"color":"#000"},{"offset":0.3478,"color":"#fff"},{"offset":0.3696,"color":"#fff"},{"offset":0.3696,"color":"#000"},{"offset":0.3913,"color":"#000"},{"offset":0.3913,"color":"#fff"},{"offset":0.413,"color":"#fff"},{"offset":0.413,"color":"#000"},{"offset":0.4348,"color":"#000"},{"offset":0.4348,"color":"#fff"},{"offset":0.4565,"color":"#fff"},{"offset":0.4565,"color":"#000"},{"offset":0.4783,"color":"#000"},{"offset":0.4783,"color":"#fff"},{"offset":0.5,"color":"#fff"},{"offset":0.5,"color":"#000"},{"offset":0.5217,"color":"#000"},{"offset":0.5217,"color":"#fff"},{"offset":0.5435,"color":"#fff"},{"offset":0.5435,"color":"#000"},{"offset":0.5652,"color":"#000"},{"offset":0.5652,"color":"#fff"},{"offset":0.587,"color":"#fff"},{"offset":0.587,"color":"#000"},{"offset":0.6087,"color":"#000"},{"offset":0.6087,"color":"#fff"},{"offset":0.6304,"color":"#fff"},{"offset":0.6304,"color":"#000"},{"offset":0.6522,"color":"#000"},{"offset":0.6522,"color":"#fff"},{"offset":0.6739,"color":"#fff"},{"offset":0.6739,"color":"#000"},{"offset":0.6957,"color":"#000"},{"offset":0.6957,"color":"#fff"},{"offset":0.7174,"color":"#fff"},{"offset":0.7174,"color":"#000"},{"offset":0.7391,"color":"#000"},{"offset":0.7391,"color":"#fff"},{"offset":0.7609,"color":"#fff"},{"offset":0.7609,"color":"#000"},{"offset":0.7826,"color":"#000"},{"offset":0.7826,"color":"#fff"},{"offset":0.8043,"color":"#fff"},{"offset":0.8043,"color":"#000"},{"offset":0.8261,"color":"#000"},{"offset":0.8261,"color":"#fff"},{"offset":0.8478,"color":"#fff"},{"offset":0.8478,"color":"#000"},{"offset":0.8696,"color":"#000"},{"offset":0.8696,"color":"#fff"},{"offset":0.8913,"color":"#fff"},{"offset":0.8913,"color":"#000"},{"offset":0.913,"color":"#000"},{"offset":0.913,"color":"#fff"},{"offset":0.9348,"color":"#fff"},{"offset":0.9348,"color":"#000"},{"offset":0.9565,"color":"#000"},{"offset":0.9565,"color":"#fff"},{"offset":0.9783,"color":"#fff"},{"offset":0.9783,"color":"#000"},{"offset":1,"color":"#000"}]}},
       {"test":"datum.treatment === '50 nM Taxol' && datum.line === 'HEY-T30 shScrambled'","value":{"gradient":"linear","x1":0,"y1":1,"x2":0.66,"y2":-0.189,"stops":[{"offset":0,"color":"#fff"},{"offset":0.0556,"color":"#fff"},{"offset":0.0556,"color":"#000"},{"offset":0.1111,"color":"#000"},{"offset":0.1111,"color":"#fff"},{"offset":0.1667,"color":"#fff"},{"offset":0.1667,"color":"#000"},{"offset":0.2222,"color":"#000"},{"offset":0.2222,"color":"#fff"},{"offset":0.2778,"color":"#fff"},{"offset":0.2778,"color":"#000"},{"offset":0.3333,"color":"#000"},{"offset":0.3333,"color":"#fff"},{"offset":0.3889,"color":"#fff"},{"offset":0.3889,"color":"#000"},{"offset":0.4444,"color":"#000"},{"offset":0.4444,"color":"#fff"},{"offset":0.5,"color":"#fff"},{"offset":0.5,"color":"#000"},{"offset":0.5556,"color":"#000"},{"offset":0.5556,"color":"#fff"},{"offset":0.6111,"color":"#fff"},{"offset":0.6111,"color":"#000"},{"offset":0.6667,"color":"#000"},{"offset":0.6667,"color":"#fff"},{"offset":0.7222,"color":"#fff"},{"offset":0.7222,"color":"#000"},{"offset":0.7778,"color":"#000"},{"offset":0.7778,"color":"#fff"},{"offset":0.8333,"color":"#fff"},{"offset":0.8333,"color":"#000"},{"offset":0.8889,"color":"#000"},{"offset":0.8889,"color":"#fff"},{"offset":0.9444,"color":"#fff"},{"offset":0.9444,"color":"#000"},{"offset":1,"color":"#000"}]}}
      ],
      "value":"#ffffff"}
    }},
   {"data":{"name":"bars"},
    "mark":{"type":"point","opacity":0,"filled":false,"color":"black"},
    "encoding":{
     "xOffset":{"field":"line","type":"nominal","scale":{"domain":["HEY-T30 shScrambled","HEY-T30 shIGF2-p"],"paddingInner":0.277,"paddingOuter":0}},
     "y":{"field":"value","type":"quantitative","scale":{"domain":[0,20],"nice":false}},
     "shape":{"field":"treatment","type":"nominal","scale":{"domain":["DMSO","50 nM Taxol"],"range":["M-9.5,-4.5L9.5,-4.5L9.5,4.5L-9.5,4.5Z","M-9.5,-4.5L9.5,-4.5L9.5,4.5L-9.5,4.5Z M-9.5,2.5L-7.5,4.5 M-9.5,-3.5L-1.5,4.5 M-4.5,-4.5L4.5,4.5 M1.5,-4.5L9.5,3.5 M7.5,-4.5L9.5,-2.5"]},
      "legend":{"orient":"none","legendX":165.5,"legendY":-9,"title":null,"symbolSize":4,"symbolStrokeWidth":2,"symbolStrokeColor":"black","symbolOpacity":1,"labelFontSize":12,"labelColor":"black","labelOffset":9.5,"rowPadding":1.5,"padding":0}}
    }},
   {"data":{"name":"bars"},
    "mark":{"type":"rule","strokeWidth":2,"color":"black"},
    "encoding":{
     "xOffset":{"field":"line","type":"nominal","scale":{"domain":["HEY-T30 shScrambled","HEY-T30 shIGF2-p"],"paddingInner":0.277,"paddingOuter":0}},
     "y":{"field":"value","type":"quantitative","scale":{"domain":[0,20],"nice":false}},
     "y2":{"field":"upper"}
    }},
   {"data":{"name":"bars"},
    "mark":{"type":"tick","thickness":2,"size":12,"color":"black"},
    "encoding":{
     "xOffset":{"field":"line","type":"nominal","scale":{"domain":["HEY-T30 shScrambled","HEY-T30 shIGF2-p"],"paddingInner":0.277,"paddingOuter":0}},
     "y":{"field":"upper","type":"quantitative","scale":{"domain":[0,20],"nice":false}}
    }},
   {"data":{"name":"bars"},
    "mark":{"type":"rule","strokeWidth":2,"color":"black"},
    "encoding":{
     "xOffset":{"field":"line","type":"nominal","scale":{"domain":["HEY-T30 shScrambled","HEY-T30 shIGF2-p"],"paddingInner":0.277,"paddingOuter":0}},
     "y":{"datum":0,"type":"quantitative","scale":{"domain":[0,20],"nice":false}},
     "y2":{"datum":-0.65}
    }},
   {"data":{"name":"bars"},
    "mark":{"type":"text","angle":315,"align":"right","baseline":"middle","dx":-5,"dy":9,"fontSize":11.5,"fontWeight":"bold","color":"black"},
    "encoding":{
     "xOffset":{"field":"line","type":"nominal","scale":{"domain":["HEY-T30 shScrambled","HEY-T30 shIGF2-p"],"paddingInner":0.277,"paddingOuter":0}},
     "y":{"datum":0,"type":"quantitative","scale":{"domain":[0,20],"nice":false}},
     "text":{"field":"line"}
    }},
   {"data":{"name":"bracket"},
    "mark":{"type":"rule","strokeWidth":2,"color":"black"},
    "encoding":{
     "xOffset":{"field":"line","type":"nominal","scale":{"domain":["HEY-T30 shScrambled","HEY-T30 shIGF2-p"],"paddingInner":0.277,"paddingOuter":0}},
     "y":{"field":"lo","type":"quantitative","scale":{"domain":[0,20],"nice":false}},
     "y2":{"field":"hi"}
    }},
   {"data":{"name":"star"},
    "mark":{"type":"tick","thickness":2,"size":35,"color":"black"},
    "encoding":{
     "y":{"field":"level","type":"quantitative","scale":{"domain":[0,20],"nice":false}}
    }},
   {"data":{"name":"star"},
    "mark":{"type":"text","baseline":"alphabetic","dy":2,"fontSize":19,"fontWeight":"bold","color":"black"},
    "encoding":{
     "y":{"field":"level","type":"quantitative","scale":{"domain":[0,20],"nice":false}},
     "text":{"field":"label"}
    }}
  ]}
 ]}
]
}
